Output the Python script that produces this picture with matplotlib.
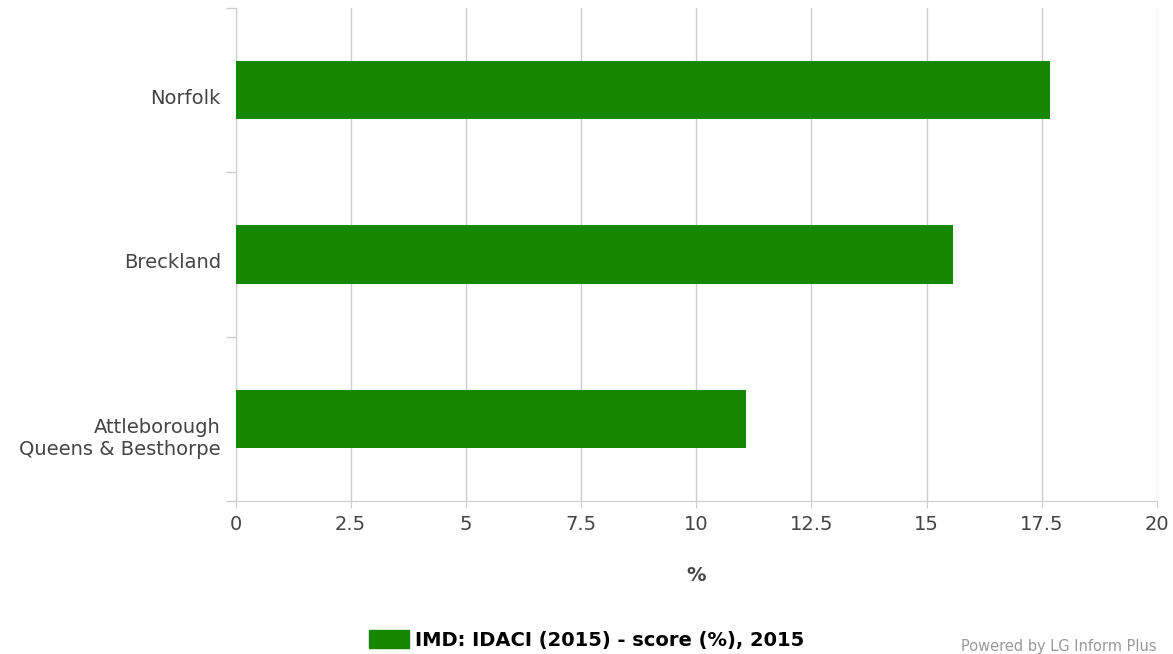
import matplotlib
matplotlib.use('Agg')
import matplotlib.pyplot as plt
from matplotlib.patches import Patch
from matplotlib.transforms import ScaledTranslation

# data
areas = ['Norfolk', 'Breckland', 'Attleborough\nQueens & Besthorpe']
scores = [17.67, 15.57, 11.08]
x_ticks = [0, 2.5, 5, 7.5, 10, 12.5, 15, 17.5, 20]
x_labels = ['0', '2.5', '5', '7.5', '10', '12.5', '15', '17.5', '20']
series_name = 'IMD: IDACI (2015) - score (%), 2015'

plt.rcParams['font.family'] = ['DejaVu Sans']

bar_color = '#158700'
text_color = '#444444'
axis_color = '#cccccc'

fig = plt.figure(figsize=(11.73, 6.54), dpi=100)
ax = fig.add_axes([235.5 / 1173, 1 - 501 / 654, (1157 - 235.5) / 1173, (501 - 8) / 654])

pos = list(range(len(areas)))[::-1]
ax.barh(pos, scores, height=0.355, color=bar_color, zorder=3)

ax.set_xlim(0, 20)
ax.set_ylim(-0.5, len(areas) - 0.5)
ax.set_xticks(x_ticks)
ax.set_xticklabels(x_labels, fontsize=14, color=text_color)
ax.set_yticks(pos)
ax.set_yticklabels(areas, fontsize=14, color=text_color, linespacing=1.25)
ax.set_yticks([-0.5, 0.5, 1.5, 2.5], minor=True)
ax.tick_params(axis='y', which='major', length=0, pad=10.5)
ax.tick_params(axis='y', which='minor', length=7, color=axis_color, width=1)
ax.tick_params(axis='x', length=5, color=axis_color, pad=5)
ax.grid(axis='x', color='#cccccc', linewidth=1, zorder=0)

# labels hang from about the bar centre (first line anchored)
shift = ScaledTranslation(0, 0.012, fig.dpi_scale_trans)
for lab in ax.get_yticklabels():
    lab.set_va('top')
    lab.set_transform(lab.get_transform() + shift)

for side in ['top', 'right']:
    ax.spines[side].set_visible(False)
for side in ['left', 'bottom']:
    ax.spines[side].set_color(axis_color)

ax.set_xlabel('%', fontsize=14, color=text_color, fontweight='bold', labelpad=23)

handle = Patch(facecolor=bar_color, edgecolor=bar_color)
fig.legend([handle], [series_name], loc='center', bbox_to_anchor=(0.5, 1 - 640 / 654),
           frameon=False, prop={'size': 14, 'weight': 'bold'},
           handlelength=2.1, handleheight=1.0, handletextpad=0.3)

fig.text(1157 / 1173, 0.0, 'Powered by LG Inform Plus', ha='right', va='bottom',
         fontsize=10.5, color='#999999')

fig.savefig('out.png', dpi=100)
